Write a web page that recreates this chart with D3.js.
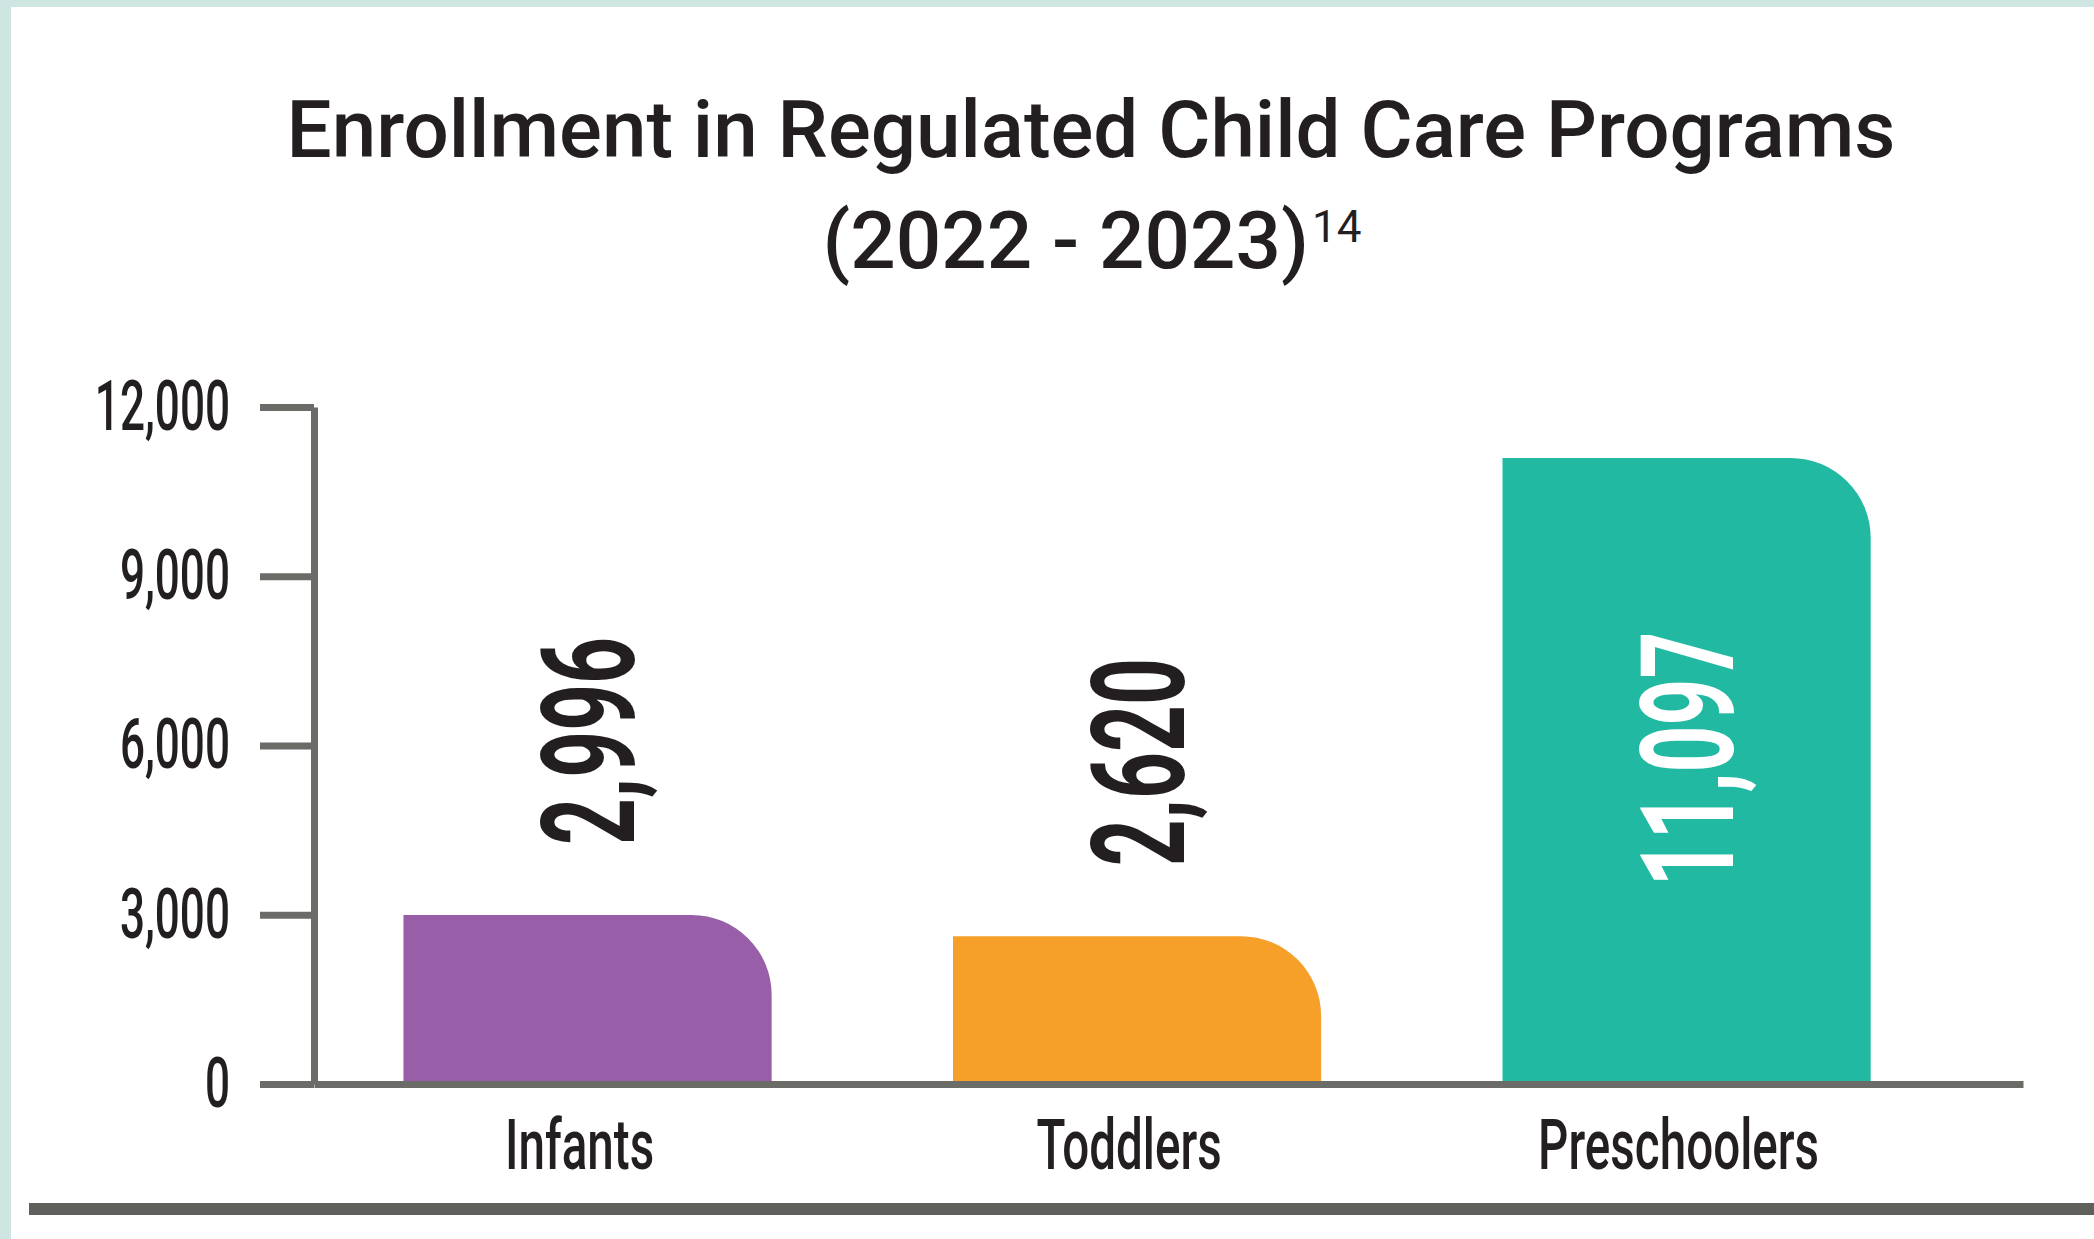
<!DOCTYPE html>
<html>
<head>
<meta charset="utf-8">
<script src="https://cdn.jsdelivr.net/npm/d3@7"></script>
<style>
  body { margin: 0; background: #fff; }
  svg { display: block; }
</style>
</head>
<body>
<div id="chart"></div>
<script>
// data
var categories = ["Infants", "Toddlers", "Preschoolers"];
var enrollment = [2996, 2620, 11097];
var barColors = ["#985ea7", "#f6a02a", "#21b9a2"];
var yTicks = [0, 3000, 6000, 9000, 12000];
var titleLine1 = "Enrollment in Regulated Child Care Programs";
var titleLine2 = "(2022 - 2023)";
var titleNote = "14";

var W = 2094, H = 1239;
var margin = {top: 407, right: 71, bottom: 155, left: 314},
    width = W - margin.left - margin.right,
    height = H - margin.top - margin.bottom;

var ink = "#231f20", axisGrey = "#6b6b67";

var svg = d3.select("#chart")
  .append("svg")
    .attr("width", W)
    .attr("height", H);

// light frame top / left
svg.append("rect").attr("x", 0).attr("y", 0).attr("width", W).attr("height", 7).attr("fill", "#cde6e2");
svg.append("rect").attr("x", 0).attr("y", 0).attr("width", 11).attr("height", H).attr("fill", "#cde6e2");

// bottom rule
svg.append("rect").attr("x", 29).attr("y", 1203).attr("width", W - 29).attr("height", 12).attr("fill", "#5f5f5b");

// title
svg.append("text")
    .attr("x", 1091).attr("y", 157)
    .attr("text-anchor", "middle")
    .attr("font-family", "Roboto")
    .attr("font-weight", 500)
    .attr("font-size", "80px")
    .attr("fill", ink)
    .attr("textLength", 1609)
    .attr("lengthAdjust", "spacingAndGlyphs")
    .text(titleLine1);

var t2 = svg.append("text")
    .attr("x", 1092).attr("y", 268)
    .attr("text-anchor", "middle")
    .attr("font-family", "Roboto")
    .attr("font-weight", 500)
    .attr("font-size", "80px")
    .attr("fill", ink);
t2.append("tspan").text(titleLine2);
t2.append("tspan")
    .attr("font-size", "44px")
    .attr("font-weight", 400)
    .attr("dx", 3)
    .attr("dy", -26)
    .text(titleNote);

var g = svg.append("g")
    .attr("transform", "translate(" + margin.left + "," + margin.top + ")");

var x = d3.scaleBand()
    .domain(categories)
    .range([0, width])
    .paddingInner(0.33)
    .paddingOuter(0.22)
    .align(0.37);

var y = d3.scaleLinear()
    .domain([0, 12000])
    .range([height, 0]);

// bars, only top-right corner rounded
var r = 80;
function barPath(d, i) {
  var x0 = x(categories[i]), x1 = x0 + x.bandwidth(),
      y0 = y(0), y1 = y(d);
  var rr = Math.min(r, y0 - y1);
  return "M" + x0 + "," + y0 +
         "V" + y1 +
         "H" + (x1 - rr) +
         "A" + rr + "," + rr + " 0 0 1 " + x1 + "," + (y1 + rr) +
         "V" + y0 + "Z";
}

g.selectAll(".bar")
  .data(enrollment)
  .enter()
  .append("path")
    .attr("class", "bar")
    .attr("d", barPath)
    .attr("fill", function(d, i) { return barColors[i]; });

// y axis
var tickSz = 54, tickPad = 30, sxTick = 0.63;
var yAxis = g.append("g")
    .call(d3.axisLeft(y).tickValues(yTicks).tickSize(tickSz).tickPadding(tickPad)
      .tickSizeOuter(0).tickFormat(d3.format(",")));
yAxis.select(".domain").attr("stroke", axisGrey).attr("stroke-width", 7);
yAxis.selectAll(".tick line").attr("stroke", axisGrey).attr("stroke-width", 7);
yAxis.selectAll(".tick text")
    .attr("font-family", "Roboto")
    .attr("font-weight", 500)
    .attr("font-size", "70px")
    .attr("fill", ink)
    .attr("x", -(tickSz + tickPad) / sxTick)
    .attr("transform", "scale(" + sxTick + ",1)");

// x axis
var sxCat = 0.68;
var xAxis = g.append("g")
    .attr("transform", "translate(0," + height + ")")
    .call(d3.axisBottom(x).tickSize(0).tickSizeOuter(0).tickPadding(35));
xAxis.select(".domain").attr("stroke", axisGrey).attr("stroke-width", 7);
xAxis.selectAll(".tick text")
    .attr("font-family", "Roboto")
    .attr("font-weight", 500)
    .attr("font-size", "70px")
    .attr("fill", ink)
    .attr("x", -8 / sxCat)
    .attr("transform", "scale(" + sxCat + ",1)");

// value labels, rotated
var sxVal = 0.63;
g.selectAll(".val")
  .data(enrollment)
  .enter()
  .append("text")
    .attr("class", "val")
    .attr("font-family", "Roboto")
    .attr("font-weight", 700)
    .attr("font-size", "130px")
    .attr("dy", "0.36em")
    .attr("text-anchor", function(d) { return d > 9000 ? "middle" : "start"; })
    .attr("fill", function(d) { return d > 9000 ? "#fff" : ink; })
    .attr("transform", function(d, i) {
      var cx = x(categories[i]) + x.bandwidth() / 2;
      var cy = d > 9000 ? (y(d) + y(0)) / 2 - 12 : y(d) - 70;
      return "translate(" + cx + "," + cy + ") rotate(-90) scale(" + sxVal + ",1)";
    })
    .text(d3.format(","));
</script>
</body>
</html>
